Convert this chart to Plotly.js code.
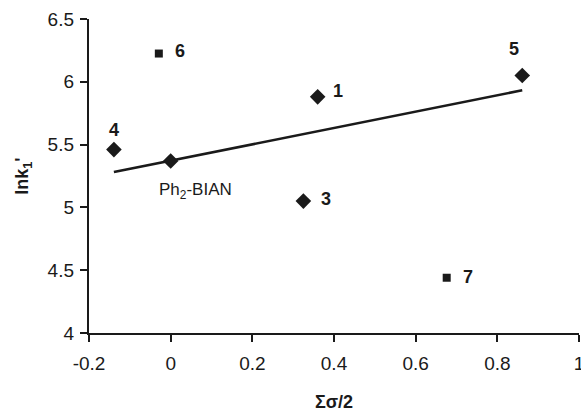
<!DOCTYPE html>
<html><head><meta charset="utf-8">
<script src="https://cdn.plot.ly/plotly-3.0.1.min.js"></script>
<style>html,body{margin:0;padding:0;background:#fff}#c{width:581px;height:414px}</style>
</head><body><div id="c"></div>
<script>
// Diamond series (complexes on the trend)
const diamondX = [-0.139, 0.0, 0.360, 0.325, 0.861];
const diamondY = [5.46, 5.37, 5.88, 5.05, 6.05];
const diamondLabels = ['4', 'Ph<sub>2</sub>-BIAN', '1', '3', '5'];
// Square series (outliers)
const squareX = [-0.029, 0.676];
const squareY = [6.225, 4.44];
const squareLabels = ['6', '7'];
// Trend line endpoints
const trendX = [-0.139, 0.861];
const trendY = [5.282, 5.932];
// Axis ticks
const xTicks = [-0.2, 0, 0.2, 0.4, 0.6, 0.8, 1];
const xTickText = ['-0.2', '0', '0.2', '0.4', '0.6', '0.8', '1'];
const yTicks = [4, 4.5, 5, 5.5, 6, 6.5];
const yTickText = ['4', '4.5', '5', '5.5', '6', '6.5'];

const ink = '#1a1a1a';
const FONT = 'Liberation Sans, Arial, sans-serif';
const traces = [
  {x: trendX, y: trendY, mode: 'lines', line: {color: ink, width: 2.6}, hoverinfo: 'skip'},
  {x: diamondX, y: diamondY, mode: 'markers', marker: {symbol: 'diamond', size: 12, color: ink}},
  {x: squareX, y: squareY, mode: 'markers', marker: {symbol: 'square', size: 8, color: ink}}
];

// label offsets (px) for each point label
const dOff = [[0, 20], [25, -30], [20, 6], [23, 2], [-8, 27]];
const sOff = [[21, 3], [21, 1]];
const annotations = [];
diamondLabels.forEach((t, i) => {
  const bold = i !== 1;
  annotations.push({x: diamondX[i], y: diamondY[i], text: bold ? '<b>' + t + '</b>' : t,
    showarrow: false, xshift: dOff[i][0], yshift: dOff[i][1],
    font: {family: FONT, size: bold ? 18 : 17, color: ink}});
});
squareLabels.forEach((t, i) => {
  annotations.push({x: squareX[i], y: squareY[i], text: '<b>' + t + '</b>',
    showarrow: false, xshift: sOff[i][0], yshift: sOff[i][1],
    font: {family: FONT, size: 18, color: ink}});
});

const layout = {
  width: 581, height: 414,
  margin: {l: 89, r: 2, t: 19, b: 81},
  showlegend: false,
  paper_bgcolor: '#fff', plot_bgcolor: '#fff',
  font: {family: FONT, color: ink, size: 19},
  xaxis: {
    range: [-0.2, 1], tickvals: xTicks, ticktext: xTickText,
    showgrid: false, zeroline: false, showline: true, linecolor: ink, linewidth: 2.2,
    ticks: 'outside', ticklen: 7, tickwidth: 2, tickcolor: ink,
    ticklabeloverflow: 'allow', ticklabelstandoff: 5,
    tickfont: {family: FONT, size: 19, color: ink},
    title: {text: '<b>Σσ/2</b>', font: {family: FONT, size: 18, color: ink}, standoff: 22}
  },
  yaxis: {
    range: [4, 6.5], tickvals: yTicks, ticktext: yTickText,
    showgrid: false, zeroline: false, showline: true, linecolor: ink, linewidth: 2.2,
    ticks: 'outside', ticklen: 7, tickwidth: 2, tickcolor: ink,
    ticklabeloverflow: 'allow', ticklabelstandoff: 2,
    tickfont: {family: FONT, size: 19, color: ink},
    title: {text: "<b>lnk<sub>1</sub>'</b>", font: {family: FONT, size: 18, color: ink}, standoff: 14}
  },
  annotations: annotations
};
Plotly.newPlot('c', traces, layout, {displayModeBar: false, staticPlot: true});
</script></body></html>
